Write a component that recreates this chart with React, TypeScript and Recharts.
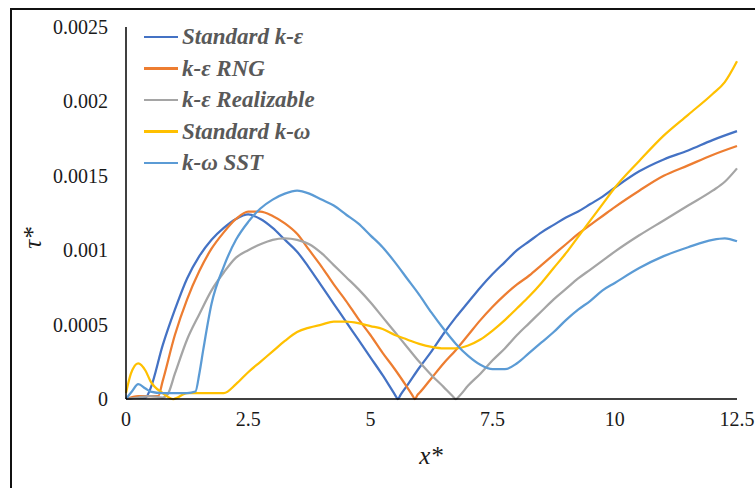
import React from "react";
import { LineChart, Line, XAxis, YAxis } from "recharts";

// x positions (x*) and wall shear stress (tau*) per turbulence model
const stdKEX = [0, 0.25, 0.4, 0.5, 0.75, 1.0, 1.25, 1.5, 1.75, 2.0, 2.25, 2.5, 2.75, 3.0, 3.25, 3.5, 3.75, 4.0, 4.25, 4.5, 4.75, 5.0, 5.25, 5.5, 5.56, 5.62, 5.75, 6.0, 6.25, 6.5, 6.75, 7.0, 7.25, 7.5, 7.75, 8.0, 8.25, 8.5, 8.75, 9.0, 9.25, 9.5, 9.75, 10, 10.5, 11, 11.5, 12, 12.5];
const stdKEY = [0, 0.00001, 0.00001, 0.00007, 0.00036, 0.0006, 0.00081, 0.00096, 0.00107, 0.00115, 0.00121, 0.00124, 0.00121, 0.00115, 0.00107, 0.00099, 0.00088, 0.00076, 0.00064, 0.00052, 0.0004, 0.00028, 0.00016, 0.00003, 0, 0.00003, 0.00009, 0.00021, 0.00032, 0.00044, 0.00055, 0.00065, 0.00075, 0.00084, 0.00092, 0.001, 0.00106, 0.00112, 0.00117, 0.00122, 0.00126, 0.00131, 0.00136, 0.00142, 0.00153, 0.00161, 0.00167, 0.00174, 0.0018];

const rngX = [0, 0.25, 0.5, 0.66, 0.75, 1.0, 1.25, 1.5, 1.75, 2.0, 2.25, 2.5, 2.75, 3.0, 3.25, 3.5, 3.75, 4.0, 4.25, 4.5, 4.75, 5.0, 5.25, 5.5, 5.75, 5.85, 5.91, 5.97, 6.0, 6.25, 6.5, 6.75, 7.0, 7.25, 7.5, 7.75, 8.0, 8.25, 8.5, 8.75, 9.0, 9.25, 9.5, 9.75, 10, 10.5, 11, 11.5, 12, 12.5];
const rngY = [0, 0.00002, 0.00002, 0.00002, 0.00012, 0.00043, 0.00067, 0.00086, 0.00101, 0.00112, 0.00121, 0.00126, 0.00126, 0.00123, 0.00118, 0.00111, 0.001, 0.00089, 0.00077, 0.00066, 0.00054, 0.00043, 0.00031, 0.0002, 0.00008, 0.00003, 0, 0.00003, 0.00004, 0.00014, 0.00024, 0.00033, 0.00043, 0.00053, 0.00062, 0.0007, 0.00077, 0.00083, 0.0009, 0.00097, 0.00104, 0.00111, 0.00117, 0.00123, 0.00129, 0.0014, 0.0015, 0.00157, 0.00164, 0.0017];

const realX = [0, 0.25, 0.5, 0.75, 0.85, 1.0, 1.25, 1.5, 1.75, 2.0, 2.25, 2.5, 2.75, 3.0, 3.25, 3.5, 3.75, 4.0, 4.25, 4.5, 4.75, 5.0, 5.25, 5.5, 5.75, 6.0, 6.25, 6.5, 6.68, 6.75, 6.82, 7.0, 7.25, 7.5, 7.75, 8.0, 8.25, 8.5, 8.75, 9.0, 9.25, 9.5, 9.75, 10, 10.5, 11, 11.5, 12, 12.25, 12.5];
const realY = [0, 0.00001, 0.00002, 0.00001, 0.00003, 0.00017, 0.0004, 0.00057, 0.00073, 0.00085, 0.00095, 0.001, 0.00104, 0.00107, 0.00108, 0.00107, 0.00104, 0.00098, 0.0009, 0.00082, 0.00074, 0.00065, 0.00055, 0.00045, 0.00035, 0.00025, 0.00016, 0.00008, 0.00002, 0, 0.00002, 0.00009, 0.00017, 0.00026, 0.00034, 0.00043, 0.00051, 0.00059, 0.00067, 0.00074, 0.00081, 0.00087, 0.00093, 0.00099, 0.0011, 0.0012, 0.0013, 0.0014, 0.00146, 0.00155];

const stdKWX = [0, 0.1, 0.25, 0.4, 0.5, 0.75, 0.97, 1.25, 1.5, 1.75, 2.0, 2.25, 2.5, 2.75, 3.0, 3.25, 3.5, 3.75, 4.0, 4.25, 4.5, 4.75, 5.0, 5.25, 5.5, 5.75, 6.0, 6.25, 6.5, 6.75, 7.0, 7.25, 7.5, 7.75, 8.0, 8.25, 8.5, 8.75, 9.0, 9.25, 9.5, 9.75, 10, 10.5, 11, 11.5, 12, 12.25, 12.5];
const stdKWY = [0.00004, 0.00017, 0.00024, 0.00019, 0.00012, 0.00004, 0, 0.00004, 0.00004, 0.00004, 0.00004, 0.0001, 0.00018, 0.00025, 0.00032, 0.00039, 0.00045, 0.00048, 0.0005, 0.00052, 0.00052, 0.00051, 0.00049, 0.00047, 0.00043, 0.0004, 0.00037, 0.00035, 0.00034, 0.00034, 0.00036, 0.0004, 0.00046, 0.00053, 0.00061, 0.00069, 0.00078, 0.00088, 0.00098, 0.00109, 0.0012, 0.00131, 0.00142, 0.0016, 0.00177, 0.00191, 0.00205, 0.00213, 0.00227];

const sstX = [0, 0.12, 0.25, 0.4, 0.5, 0.75, 1.0, 1.25, 1.42, 1.5, 1.58, 1.75, 2.0, 2.25, 2.5, 2.75, 3.0, 3.25, 3.5, 3.75, 4.0, 4.25, 4.5, 4.75, 5.0, 5.25, 5.5, 5.75, 6.0, 6.25, 6.5, 6.75, 7.0, 7.25, 7.5, 7.75, 8.0, 8.25, 8.5, 8.75, 9.0, 9.25, 9.5, 9.75, 10, 10.5, 11, 11.5, 12, 12.25, 12.5];
const sstY = [0, 0.00005, 0.0001, 0.00007, 0.00005, 0.00004, 0.00004, 0.00004, 0.00005, 0.00017, 0.00033, 0.00064, 0.00089, 0.00107, 0.00119, 0.00128, 0.00134, 0.00138, 0.0014, 0.00138, 0.00134, 0.0013, 0.00124, 0.00118, 0.0011, 0.00102, 0.00092, 0.00081, 0.0007, 0.00058, 0.00047, 0.00037, 0.00029, 0.00023, 0.0002, 0.0002, 0.00024, 0.00031, 0.00038, 0.00045, 0.00053, 0.0006, 0.00066, 0.00073, 0.00078, 0.00088, 0.00096, 0.00102, 0.00107, 0.00108, 0.00106];

const xTicks = [0, 2.5, 5, 7.5, 10, 12.5];
const yTicks = [0, 0.0005, 0.001, 0.0015, 0.002, 0.0025];

const toPoints = (xs: number[], ys: number[]) => xs.map((x, i) => ({ x, y: ys[i] }));

const series = [
  { name: "Standard k-ε", color: "#4472C4", data: toPoints(stdKEX, stdKEY) },
  { name: "k-ε RNG", color: "#ED7D31", data: toPoints(rngX, rngY) },
  { name: "k-ε Realizable", color: "#A5A5A5", data: toPoints(realX, realY) },
  { name: "Standard k-ω", color: "#FFC000", data: toPoints(stdKWX, stdKWY) },
  { name: "k-ω SST", color: "#5B9BD5", data: toPoints(sstX, sstY) },
];

const serif = "Liberation Serif, Times New Roman, serif";

// plain serif tick text, recharts passes x/y/anchor
const SerifTick = (props: any) => {
  const { x, y, payload, textAnchor, dy } = props;
  return (
    <text
      x={x}
      y={y}
      dy={dy}
      textAnchor={textAnchor}
      fontFamily={serif}
      fontSize={20}
      fill="#1a1a1a"
    >
      {payload.value}
    </text>
  );
};

export default function App() {
  return (
    <div style={{ position: "fixed", left: 0, top: 0, width: 755, height: 488, overflow: "hidden", background: "#fff" }}>
      <div style={{ position: "absolute", left: 10, top: 8, width: 800, height: 600, border: "2px solid #111" }} />
      <div style={{ position: "absolute", left: 0, top: 0 }}>
        <LineChart width={755} height={488} margin={{ top: 27, right: 18, bottom: 59, left: 66 }}>
          <XAxis
            type="number"
            dataKey="x"
            domain={[0, 12.5]}
            ticks={xTicks}
            tickLine={false}
            tickSize={0}
            tickMargin={11}
            height={30}
            axisLine={{ stroke: "#000", strokeWidth: 1.5 }}
            tick={<SerifTick dy={16} />}
            allowDuplicatedCategory={false}
          />
          <YAxis
            type="number"
            domain={[0, 0.0025]}
            ticks={yTicks}
            tickLine={false}
            tickSize={0}
            tickMargin={18}
            width={60}
            axisLine={{ stroke: "#000", strokeWidth: 1.5 }}
            tick={<SerifTick dy={7} />}
          />
          {series.map((s) => (
            <Line
              key={s.name}
              data={s.data}
              dataKey="y"
              name={s.name}
              type="monotone"
              stroke={s.color}
              strokeWidth={2.25}
              dot={false}
              isAnimationActive={false}
            />
          ))}
        </LineChart>
      </div>
      <div style={{ position: "absolute", left: 144, top: 21, fontFamily: serif }}>
        {series.map((s) => (
          <div key={s.name} style={{ display: "flex", alignItems: "center", height: 31.5 }}>
            <div style={{ width: 34, height: 2.5, background: s.color, marginRight: 4 }} />
            <span style={{ fontSize: 23, fontWeight: "bold", fontStyle: "italic", color: "#595959", lineHeight: "31.5px" }}>
              {s.name}
            </span>
          </div>
        ))}
      </div>
      <div style={{ position: "absolute", left: 406, top: 442, width: 50, textAlign: "center", fontFamily: serif, fontStyle: "italic", fontSize: 25, color: "#1a1a1a" }}>
        x*
      </div>
      <div style={{ position: "absolute", left: 8, top: 224, width: 50, textAlign: "center", fontFamily: serif, fontStyle: "italic", fontSize: 25, color: "#1a1a1a", transform: "rotate(-90deg)" }}>
        τ*
      </div>
    </div>
  );
}
